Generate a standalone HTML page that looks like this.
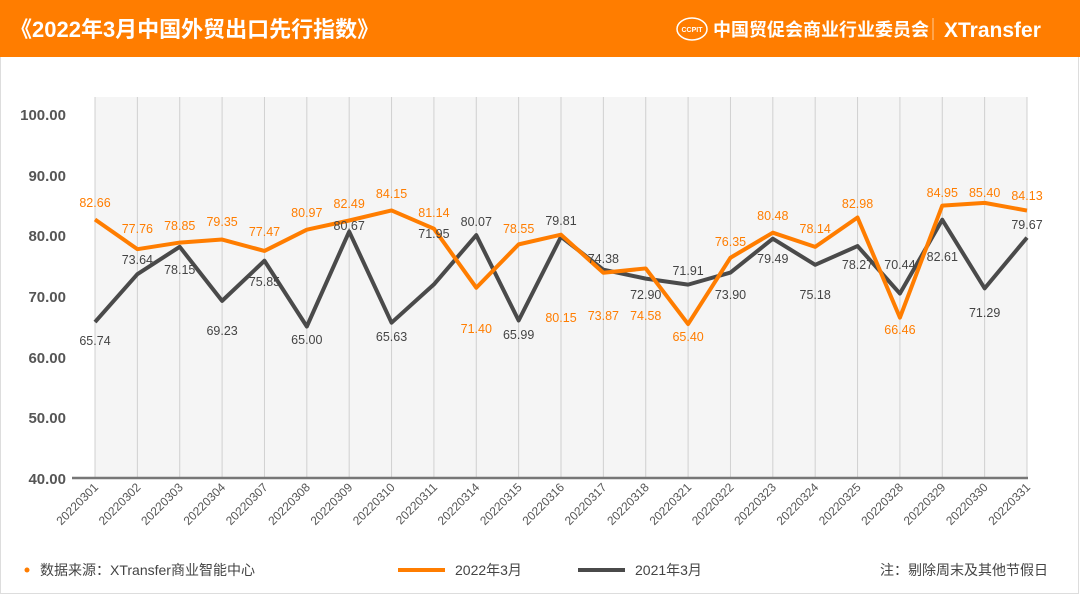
<!DOCTYPE html>
<html><head><meta charset="utf-8"><style>
body{margin:0;width:1080px;height:595px;overflow:hidden;background:#fff;font-family:"Liberation Sans","Noto Sans CJK SC",sans-serif;}
</style></head><body>
<svg width="1080" height="595" xmlns="http://www.w3.org/2000/svg" font-family="Liberation Sans, Noto Sans CJK SC, sans-serif">
<rect x="0" y="0" width="1080" height="595" fill="#fff"/>
<rect x="0.5" y="0.5" width="1078" height="593" fill="none" stroke="#ddd"/>
<rect x="0" y="0" width="1080" height="57" fill="#ff7d00"/>
<text x="10" y="37" fill="#fff" font-size="22" font-weight="bold">《2022年3月中国外贸出口先行指数》</text>
<ellipse cx="692" cy="29" rx="15" ry="11" fill="none" stroke="#fff" stroke-width="1.5"/>
<text x="692" y="32" fill="#fff" font-size="7" font-weight="bold" text-anchor="middle">CCPIT</text>
<text x="713" y="36" fill="#fff" font-size="18" font-weight="bold">中国贸促会商业行业委员会</text>
<line x1="933" y1="18" x2="933" y2="40" stroke="#fff" stroke-opacity="0.6"/>
<text x="944" y="37" fill="#fff" font-size="21" font-weight="bold">XTransfer</text>
<rect x="95" y="97" width="932" height="381" fill="#f5f5f5"/>
<g id="grid" stroke="#d0d0d0" stroke-width="1"></g>
<line x1="72" y1="478" x2="1028" y2="478" stroke="#777" stroke-width="2.5"/>
<g font-size="15" fill="#555" font-weight="bold" text-anchor="end">
<text x="66" y="120">100.00</text><text x="66" y="181">90.00</text><text x="66" y="241">80.00</text>
<text x="66" y="302">70.00</text><text x="66" y="363">60.00</text><text x="66" y="423">50.00</text><text x="66" y="484">40.00</text>
</g>
<g id="xl" font-size="12" fill="#555"></g>
<polyline id="l21" fill="none" stroke="#4a4a4a" stroke-width="4" stroke-linejoin="round"/>
<polyline id="l22" fill="none" stroke="#ff7d00" stroke-width="4" stroke-linejoin="round"/>
<g id="lab" font-size="12.5" text-anchor="middle"></g>
<circle cx="27" cy="570" r="2.5" fill="#ff7d00"/>
<text x="40" y="575" font-size="14" fill="#444">数据来源：XTransfer商业智能中心</text>
<line x1="398" y1="570" x2="445" y2="570" stroke="#ff7d00" stroke-width="4"/>
<text x="455" y="575" font-size="14" fill="#444">2022年3月</text>
<line x1="578" y1="570" x2="625" y2="570" stroke="#4a4a4a" stroke-width="4"/>
<text x="635" y="575" font-size="14" fill="#444">2021年3月</text>
<text x="1048" y="575" font-size="14" fill="#444" text-anchor="end">注：剔除周末及其他节假日</text>
</svg>
<script>
const ns="http://www.w3.org/2000/svg";
const d=["20220301","20220302","20220303","20220304","20220307","20220308","20220309","20220310","20220311","20220314","20220315","20220316","20220317","20220318","20220321","20220322","20220323","20220324","20220325","20220328","20220329","20220330","20220331"];
const a=[82.66,77.76,78.85,79.35,77.47,80.97,82.49,84.15,81.14,71.40,78.55,80.15,73.87,74.58,65.40,76.35,80.48,78.14,82.98,66.46,84.95,85.40,84.13];
const b=[65.74,73.64,78.15,69.23,75.85,65.00,80.67,65.63,71.95,80.07,65.99,79.81,74.38,72.90,71.91,73.90,79.49,75.18,78.27,70.44,82.61,71.29,79.67];
const ay=[203,229,226,222,232,213,204,194,213,329,229,318,316,316,337,242,216,229,204,330,193,193,196];
const by=[341,260,270,331,282,340,226,337,234,222,335,221,259,295,271,295,259,295,265,265,257,313,225];
const X=i=>95+i*932/22, Y=v=>478-(v-40)*6.06;
const g=document.getElementById("grid"),xl=document.getElementById("xl"),lab=document.getElementById("lab");
let pa=[],pb=[];
d.forEach((s,i)=>{const x=X(i);
let l=document.createElementNS(ns,"line");l.setAttribute("x1",x);l.setAttribute("x2",x);l.setAttribute("y1",97);l.setAttribute("y2",478);g.appendChild(l);
let t=document.createElementNS(ns,"text");t.setAttribute("text-anchor","end");t.setAttribute("transform",`translate(${x+4},${488}) rotate(-45)`);t.textContent=s;xl.appendChild(t);
pa.push(x+","+Y(a[i]));pb.push(x+","+Y(b[i]));
let t1=document.createElementNS(ns,"text");t1.setAttribute("x",x);t1.setAttribute("y",ay[i]+4);t1.setAttribute("fill","#ff7d00");t1.textContent=a[i].toFixed(2);lab.appendChild(t1);
let t2=document.createElementNS(ns,"text");t2.setAttribute("x",x);t2.setAttribute("y",by[i]+4);t2.setAttribute("fill","#444");t2.textContent=b[i].toFixed(2);lab.appendChild(t2);
});
document.getElementById("l22").setAttribute("points",pa.join(" "));
document.getElementById("l21").setAttribute("points",pb.join(" "));
</script>
</body></html>
